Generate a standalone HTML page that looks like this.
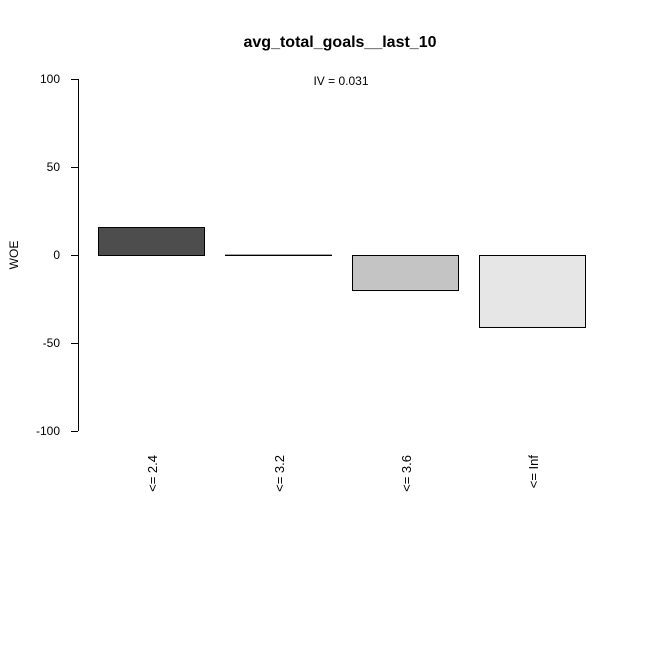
<!DOCTYPE html>
<html><head><meta charset="utf-8"><style>
html,body{margin:0;padding:0;background:#fff;}
svg{display:block;font-family:"Liberation Sans",Arial,sans-serif;}
</style></head><body>
<svg id="chart" width="645" height="645" viewBox="0 0 645 645">
<text x="340" y="47" text-anchor="middle" font-weight="bold" font-size="16">avg_total_goals__last_10</text>
<text x="341" y="85" text-anchor="middle" font-size="12">IV = 0.031</text>
<text transform="translate(18,255) rotate(-90)" text-anchor="middle" font-size="12">WOE</text>
<line x1="78.5" y1="79" x2="78.5" y2="431" stroke="#000"/>
<g id="ticks"></g>
<g id="bars"></g>
<g id="xlabels"></g>
</svg>
<script>
const categories = ["<= 2.4", "<= 3.2", "<= 3.6", "<= Inf"];
const woeValues = [15.9, 0.2, -19.9, -40.9];
const barColors = ["#4d4d4d", "#8c8c8c", "#c4c4c4", "#e6e6e6"];
const yTicks = [-100, -50, 0, 50, 100];

const NS = "http://www.w3.org/2000/svg";
function y(v){ return 255 - v * 1.76; }
function xLeft(i){ return 98 + i * 127; }
const barW = 106;

const tg = document.getElementById("ticks");
yTicks.forEach(t => {
  const l = document.createElementNS(NS, "line");
  l.setAttribute("x1", 71); l.setAttribute("x2", 78);
  l.setAttribute("y1", y(t) + 0.5); l.setAttribute("y2", y(t) + 0.5);
  l.setAttribute("stroke", "#000");
  
  
  tg.appendChild(l);
  const tx = document.createElementNS(NS, "text");
  tx.setAttribute("x", 60); tx.setAttribute("y", y(t) + 4);
  tx.setAttribute("text-anchor", "end"); tx.setAttribute("font-size", "12");
  tx.textContent = t;
  
  
  tg.appendChild(tx);
});

const bg = document.getElementById("bars");
const xg = document.getElementById("xlabels");
categories.forEach((c, i) => {
  const v = woeValues[i];
  const top = Math.min(y(v), y(0)), h = Math.abs(y(v) - y(0));
  const r = document.createElementNS(NS, "rect");
  r.setAttribute("x", xLeft(i) + 0.5); r.setAttribute("y", top + 0.5);
  r.setAttribute("width", barW); r.setAttribute("height", Math.max(h, 0));
  r.setAttribute("fill", barColors[i]); r.setAttribute("stroke", "#000");
  
  
  bg.appendChild(r);
  const tx = document.createElementNS(NS, "text");
  const cx = xLeft(i) + barW / 2 + 6;
  tx.setAttribute("transform", "translate(" + cx + ",455) rotate(-90)");
  tx.setAttribute("text-anchor", "end"); tx.setAttribute("font-size", "13");
  tx.textContent = c;
  
  
  xg.appendChild(tx);
});
</script>
</body></html>
